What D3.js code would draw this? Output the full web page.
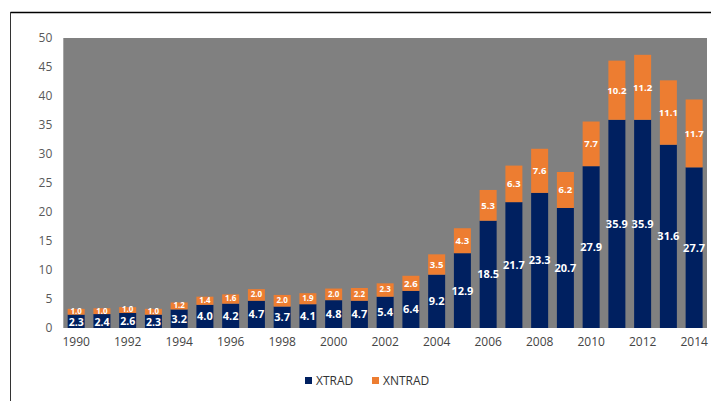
<!DOCTYPE html>
<html><head><meta charset="utf-8">
<script src="https://cdn.jsdelivr.net/npm/d3@7"></script>
<style>body{margin:0;background:#fff}svg{display:block}</style>
</head><body>
<svg id="c" width="711" height="401"></svg>
<script>
const years = d3.range(1990, 2015);
const xtrad = [2.3,2.4,2.6,2.3,3.2,4.0,4.2,4.7,3.7,4.1,4.8,4.7,5.4,6.4,9.2,12.9,18.5,21.7,23.3,20.7,27.9,35.9,35.9,31.6,27.7];
const xntrad = [1.0,1.0,1.0,1.0,1.2,1.4,1.6,2.0,2.0,1.9,2.0,2.2,2.3,2.6,3.5,4.3,5.3,6.3,7.6,6.2,7.7,10.2,11.2,11.1,11.7];
const yTicks = [0,5,10,15,20,25,30,35,40,45,50];
const seriesNames = ["XTRAD","XNTRAD"];
const colors = ["#002060","#ed7d31"];

const svg = d3.select("#c");
const L = 63.3, R = 707, T = 38, B = 328;
const x = d3.scaleBand().domain(years).range([L, R]).paddingInner(0.34).paddingOuter(0.17);
const y = d3.scaleLinear().domain([0, 50]).range([B, T]);

// frame lines
svg.append("line").attr("x1",10.5).attr("x2",711).attr("y1",12.5).attr("y2",12.5).attr("stroke","#000").attr("stroke-width",1.5);
svg.append("line").attr("x1",10.5).attr("x2",10.5).attr("y1",12).attr("y2",401).attr("stroke","#333").attr("stroke-width",1);

svg.append("rect").attr("x",L).attr("y",T).attr("width",R-L).attr("height",B-T).attr("fill","#808080");

const font = "'Open Sans', 'DejaVu Sans', sans-serif";

// y axis
const ya = svg.append("g").attr("transform",`translate(${L-11},0)`)
  .call(d3.axisLeft(y).tickValues(yTicks).tickSize(0).tickPadding(0));
ya.select(".domain").remove();
ya.selectAll("text").attr("font-family",font).attr("font-size",12).attr("fill","#595959");

// x axis
const xa = svg.append("g").attr("transform",`translate(0,${B+9})`)
  .call(d3.axisBottom(x).tickValues(years.filter(d=>d%2===0)).tickSize(0).tickPadding(0).tickFormat(d3.format("d")));
xa.select(".domain").remove();
xa.selectAll("text").attr("font-family",font).attr("font-size",12).attr("fill","#444");

const stack = d3.stack().keys([0,1]).value((d,k)=>k===0?d.a:d.b);
const rows = years.map((yr,i)=>({yr, a:xtrad[i], b:xntrad[i]}));
const layers = stack(rows);

layers.forEach((layer, li) => {
  const g = svg.append("g");
  g.selectAll("rect").data(layer).join("rect")
    .attr("x", d=>x(d.data.yr)).attr("width", x.bandwidth())
    .attr("y", d=>y(d[1])).attr("height", d=>y(d[0])-y(d[1]))
    .attr("fill", colors[li]);
  g.selectAll("text").data(layer).join("text")
    .attr("x", d=>x(d.data.yr)+x.bandwidth()/2)
    .attr("y", d=>(y(d[0])+y(d[1]))/2 + (li===1 && (d[1]-d[0])<2.5 ? -0.5 : (li===0 && (d[1]-d[0])<3 ? 1 : 0)))
    .attr("dy","0.36em")
    .attr("text-anchor","middle")
    .attr("font-family",font)
    .attr("font-weight","bold")
    .attr("font-size", d => li===0 ? ((d[1]-d[0])<3 ? 10.5 : 11) : ((d[1]-d[0])<2.5 ? 8 : 9.5))
    .attr("fill","#fff")
    .text(d=>d3.format(".1f")(d[1]-d[0]));
});

// legend
const leg = svg.append("g").attr("transform","translate(305,381)");
seriesNames.forEach((n,i)=>{
  const gx = i*67;
  leg.append("rect").attr("x",gx).attr("y",-4).attr("width",7).attr("height",7).attr("fill",colors[i]);
  leg.append("text").attr("x",gx+11).attr("y",0).attr("dy","0.36em")
    .attr("font-family",font).attr("font-size",12).attr("fill","#333").text(n);
});
</script>
</body></html>
